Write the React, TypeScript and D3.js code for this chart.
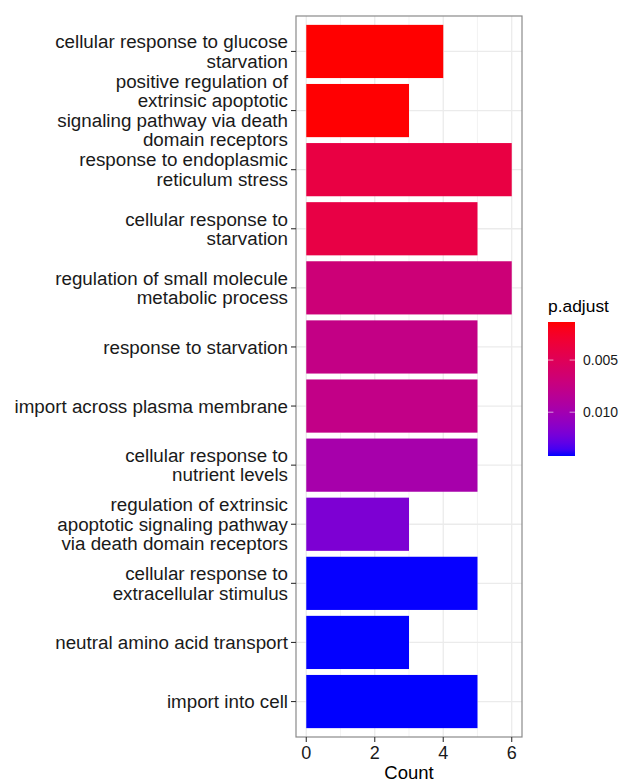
import React from "react";
import * as d3 from "d3";

// GO terms, top to bottom, with wrapped label lines
const terms: string[][] = [
  ["cellular response to glucose", "starvation"],
  ["positive regulation of", "extrinsic apoptotic", "signaling pathway via death", "domain receptors"],
  ["response to endoplasmic", "reticulum stress"],
  ["cellular response to", "starvation"],
  ["regulation of small molecule", "metabolic process"],
  ["response to starvation"],
  ["import across plasma membrane"],
  ["cellular response to", "nutrient levels"],
  ["regulation of extrinsic", "apoptotic signaling pathway", "via death domain receptors"],
  ["cellular response to", "extracellular stimulus"],
  ["neutral amino acid transport"],
  ["import into cell"],
];
const counts: number[] = [4, 3, 6, 5, 6, 5, 5, 5, 3, 5, 3, 5];
const pAdjust: number[] = [
  0.00135, 0.0014, 0.0039, 0.004, 0.0068, 0.0076, 0.0077, 0.0097, 0.0119, 0.01418, 0.01419, 0.0142,
];
const xTicks: number[] = [0, 2, 4, 6];
const xMinor: number[] = [1, 3, 5];
const legendTicks: number[] = [0.005, 0.01];

const W = 619;
const H = 783;
const panel = { left: 296, right: 522, top: 16, bottom: 737 };
const FONT = "'Liberation Sans', Arial, sans-serif";

export default function App() {
  // ggplot-style discrete expansion: centres 0.6 step from the panel edges
  const step = (panel.bottom - panel.top) / (terms.length + 0.2);
  const centre = (i: number) => panel.top + step * (0.6 + i);
  const barH = step * 0.9;

  const x = d3.scaleLinear().domain([-0.3, 6.3]).range([panel.left, panel.right]);

  const pMin = d3.min(pAdjust)!;
  const pMax = d3.max(pAdjust)!;
  const colour = d3
    .scaleLinear<string>()
    .domain([pMin, pMax])
    .range(["#FF0000", "#0000FF"])
    .interpolate(d3.interpolateLab);

  const leg = { x: 548, y: 322, w: 27, h: 134 };
  const legY = d3.scaleLinear().domain([pMin, pMax]).range([leg.y, leg.y + leg.h]);
  const stops = d3.range(0, 1.0001, 0.05);

  const lineH = 19.5;

  return (
    <svg
      width={W}
      height={H}
      style={{ position: "absolute", left: 0, top: 0, background: "#fff" }}
      fontFamily={FONT}
    >
      <defs>
        <linearGradient id="pgrad" x1="0" y1="0" x2="0" y2="1">
          {stops.map((t) => (
            <stop key={t} offset={t} stopColor={colour(pMin + t * (pMax - pMin))} />
          ))}
        </linearGradient>
      </defs>
      <rect x={panel.left} y={panel.top} width={panel.right - panel.left} height={panel.bottom - panel.top} fill="#fff" />
      {/* minor grid */}
      {xMinor.map((v) => (
        <line key={"mn" + v} x1={x(v)} x2={x(v)} y1={panel.top} y2={panel.bottom} stroke="#F0F0F0" strokeWidth={0.8} />
      ))}
      {/* major grid */}
      {xTicks.map((v) => (
        <line key={"mj" + v} x1={x(v)} x2={x(v)} y1={panel.top} y2={panel.bottom} stroke="#EBEBEB" strokeWidth={1.3} />
      ))}
      {terms.map((_, i) => (
        <line key={"hg" + i} x1={panel.left} x2={panel.right} y1={centre(i)} y2={centre(i)} stroke="#EBEBEB" strokeWidth={1.3} />
      ))}
      {/* bars */}
      {counts.map((c, i) => (
        <rect
          key={"b" + i}
          x={x(0)}
          y={centre(i) - barH / 2}
          width={x(c) - x(0)}
          height={barH}
          fill={colour(pAdjust[i])}
        />
      ))}
      <rect
        x={panel.left}
        y={panel.top}
        width={panel.right - panel.left}
        height={panel.bottom - panel.top}
        fill="none"
        stroke="#8A8A8A"
        strokeWidth={1.2}
      />
      {/* y axis ticks and labels */}
      {terms.map((lines, i) => {
        const cy = centre(i);
        const y0 = cy - ((lines.length - 1) * lineH) / 2;
        return (
          <g key={"yl" + i}>
            <line x1={panel.left - 5} x2={panel.left} y1={cy} y2={cy} stroke="#333" strokeWidth={1.1} />
            <text x={288} textAnchor="end" fontSize={18.8} fill="#1a1a1a">
              {lines.map((l, j) => (
                <tspan key={j} x={288} y={y0 + j * lineH} dy="0.35em">
                  {l}
                </tspan>
              ))}
            </text>
          </g>
        );
      })}
      {/* x axis */}
      {xTicks.map((v) => (
        <g key={"xt" + v}>
          <line x1={x(v)} x2={x(v)} y1={panel.bottom} y2={panel.bottom + 5} stroke="#333" strokeWidth={1.1} />
          <text x={x(v)} y={759} textAnchor="middle" fontSize={18} fill="#1a1a1a">
            {v}
          </text>
        </g>
      ))}
      <text x={(panel.left + panel.right) / 2} y={779} textAnchor="middle" fontSize={18.5} fill="#000">
        Count
      </text>
      {/* colour bar legend */}
      <text x={leg.x} y={312} fontSize={17.4} fill="#000">
        p.adjust
      </text>
      <rect x={leg.x} y={leg.y} width={leg.w} height={leg.h} fill="url(#pgrad)" />
      {legendTicks.map((v) => (
        <g key={"lt" + v}>
          <line x1={leg.x} x2={leg.x + leg.w / 5} y1={legY(v)} y2={legY(v)} stroke="#fff" strokeOpacity={0.6} strokeWidth={1} />
          <line x1={leg.x + leg.w * 0.8} x2={leg.x + leg.w} y1={legY(v)} y2={legY(v)} stroke="#fff" strokeOpacity={0.6} strokeWidth={1} />
          <text x={583} y={legY(v)} dy="0.35em" fontSize={14} fill="#1a1a1a">
            {d3.format(".3f")(v)}
          </text>
        </g>
      ))}
    </svg>
  );
}
